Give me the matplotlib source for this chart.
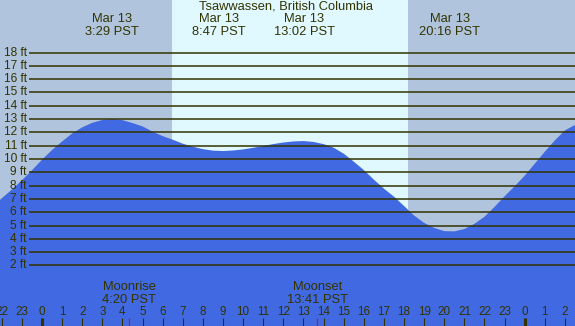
import matplotlib
matplotlib.use("Agg")
import matplotlib.pyplot as plt
import numpy as np

plt.rcParams["font.family"] = ["Liberation Sans", "DejaVu Sans"]

# tide readings every half hour, hours since midnight Mar 13 (PST)
hours = np.arange(-2.5, 27.01, 0.5)
heights = [6.40, 7.05, 7.70, 8.40, 9.15, 9.95, 10.68, 11.32, 11.92, 12.38,
           12.72, 12.93, 13.00, 12.92, 12.70, 12.45, 12.05, 11.72, 11.45, 11.15,
           10.92, 10.74, 10.63, 10.60, 10.64, 10.72, 10.84, 10.98, 11.12, 11.24,
           11.32, 11.35, 11.28, 11.12, 10.85, 10.40, 9.80, 9.17, 8.45, 7.77,
           7.17, 6.47, 5.75, 5.20, 4.82, 4.58, 4.56, 4.74, 5.13, 5.66,
           6.40, 7.20, 7.95, 8.75, 9.65, 10.55, 11.40, 12.15, 12.56, 12.85]

# high / low events shown in the header
event_hours = [3 + 29/60, 8 + 47/60, 13 + 2/60, 20 + 16/60]
event_labels = ["3:29 PST", "8:47 PST", "13:02 PST", "20:16 PST"]
event_date = "Mar 13"

# moon events
moon_hours = [4 + 20/60, 13 + 41/60]
moon_names = ["Moonrise", "Moonset"]
moon_labels = ["4:20 PST", "13:41 PST"]

sunrise = 6 + 28/60
sunset = 18 + 12/60

grid_ft = list(range(2, 19))
hour_ticks = list(range(-2, 27))

title = "Tsawwassen, British Columbia"

night = "#b0c4de"
day = "#e0f8ff"
water = "#4169e1"
ink = "#333300"

fig = plt.figure(figsize=(5.75, 3.26), dpi=100)
ax = fig.add_axes([0, 0, 1, 1])
x0, x1 = -2.09, 26.5
ax.set_xlim(x0, x1)
ax.set_ylim(-2.55, 21.95)
ax.axis("off")

ax.axvspan(x0, sunrise, color=night, lw=0, zorder=0)
ax.axvspan(sunrise, sunset, color=day, lw=0, zorder=0)
ax.axvspan(sunset, x1, color=night, lw=0, zorder=0)

ax.fill_between(hours, heights, -5, color=water, lw=0, zorder=1)

gx = x0 + 29 / 575 * (x1 - x0)
ax.hlines(grid_ft, gx, x1, color=ink, lw=1.1, zorder=2)
for ft in grid_ft:
    ax.text(gx - 0.1, ft, f"{ft} ft", ha="right", va="center",
            fontsize=8.6, color=ink, zorder=3)

tr = ax.get_xaxis_transform()
ax.text(0.5 * (x0 + x1) - 0.05, 0.979, title, transform=tr, ha="center",
        va="center", fontsize=9.3, color=ink)
for h, lab in zip(event_hours, event_labels):
    ax.text(h, 0.941, event_date, transform=tr, ha="center", va="center",
            fontsize=9.3, color=ink)
    ax.text(h, 0.902, lab, transform=tr, ha="center", va="center",
            fontsize=9.3, color=ink)

for h, name, lab in zip(moon_hours, moon_names, moon_labels):
    ax.text(h, 0.119, name, transform=tr, ha="center", va="center",
            fontsize=9.3, color=ink)
    ax.text(h, 0.081, lab, transform=tr, ha="center", va="center",
            fontsize=9.3, color=ink)
    ax.vlines(h, 0, 0.0245, transform=tr, color="red", lw=0.8)

for h in hour_ticks:
    ax.text(h, 0.044, str(h % 24), transform=tr, ha="center", va="center",
            fontsize=8.4, color=ink, clip_on=False)
    lw = 2.2 if h % 24 == 0 else 0.8
    ax.vlines(h, 0, 0.0245, transform=tr, color=ink, lw=lw)

fig.savefig("out.png", dpi=100)
